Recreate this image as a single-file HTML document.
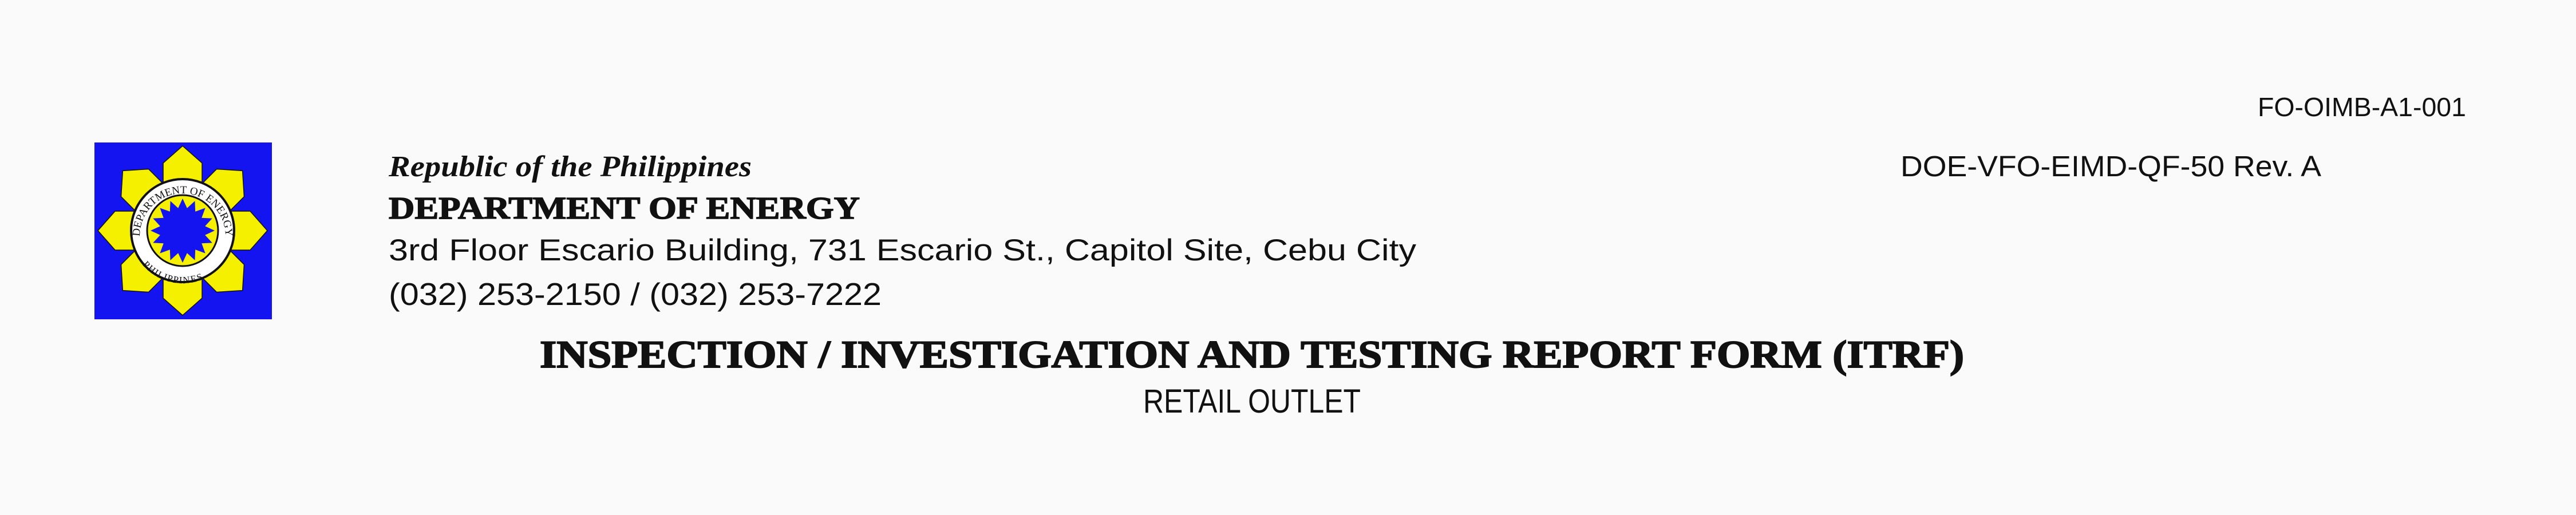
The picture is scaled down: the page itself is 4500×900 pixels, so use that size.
<!DOCTYPE html>
<html><head><meta charset="utf-8"><style>
html,body{margin:0;padding:0;background:#fafafa;}
svg{display:block;}
</style></head><body>
<svg width="4500" height="900" viewBox="0 0 4500 900" xmlns="http://www.w3.org/2000/svg">
<rect x="0" y="0" width="4500" height="900" fill="#fafafa"/>
<g>
  <rect x="165" y="249" width="310" height="309" fill="#1414f0"/>
  <g transform="translate(319,403)">
    <g fill="#f5f000" stroke="#111" stroke-width="1.5">
      <polygon points="0,-148 -34,-118 -34,-70 34,-70 34,-118" transform="rotate(0)"/>
      <polygon points="0,-148 -34,-118 -34,-70 34,-70 34,-118" transform="rotate(45)"/>
      <polygon points="0,-148 -34,-118 -34,-70 34,-70 34,-118" transform="rotate(90)"/>
      <polygon points="0,-148 -34,-118 -34,-70 34,-70 34,-118" transform="rotate(135)"/>
      <polygon points="0,-148 -34,-118 -34,-70 34,-70 34,-118" transform="rotate(180)"/>
      <polygon points="0,-148 -34,-118 -34,-70 34,-70 34,-118" transform="rotate(225)"/>
      <polygon points="0,-148 -34,-118 -34,-70 34,-70 34,-118" transform="rotate(270)"/>
      <polygon points="0,-148 -34,-118 -34,-70 34,-70 34,-118" transform="rotate(315)"/>
    </g>
    <circle r="90" fill="#fff" stroke="#111" stroke-width="4"/>
    <circle r="62" fill="#f5f000" stroke="#111" stroke-width="3"/>
    <polygon id="star" fill="#1414f0" points=""/>
    <defs><path id="ringpath" d="M -75,10 A 75,75 0 1,1 75,10"/><path id="ringpath2" d="M -60,50 A 78,78 0 0,0 60,50"/></defs>
    <text font-family="Liberation Serif, serif" font-size="19" fill="#111"><textPath href="#ringpath">DEPARTMENT OF ENERGY</textPath></text>
    <text font-family="Liberation Serif, serif" font-size="17" fill="#111" dy="14"><textPath href="#ringpath2">PHILIPPINES</textPath></text>
  </g>
</g>
<text x="679" y="308" font-family="Liberation Serif, serif" font-size="52" font-style="italic" font-weight="bold" textLength="634" lengthAdjust="spacingAndGlyphs" fill="#111">Republic of the Philippines</text>
<text x="679" y="382" font-family="Liberation Serif, serif" font-size="55" font-weight="bold" stroke="#111" stroke-width="1.5" textLength="823" lengthAdjust="spacingAndGlyphs" fill="#111">DEPARTMENT OF ENERGY</text>
<text x="679" y="455" font-family="Liberation Sans, sans-serif" font-size="53" textLength="1795" lengthAdjust="spacingAndGlyphs" fill="#111">3rd Floor Escario Building, 731 Escario St., Capitol Site, Cebu City</text>
<text x="679" y="533" font-family="Liberation Sans, sans-serif" font-size="55" textLength="861" lengthAdjust="spacingAndGlyphs" fill="#111">(032) 253-2150 / (032) 253-7222</text>
<text x="3944" y="203" font-family="Liberation Sans, sans-serif" font-size="46" textLength="364" lengthAdjust="spacingAndGlyphs" fill="#111">FO-OIMB-A1-001</text>
<text x="3320" y="308" font-family="Liberation Sans, sans-serif" font-size="51" textLength="735" lengthAdjust="spacingAndGlyphs" fill="#111">DOE-VFO-EIMD-QF-50 Rev. A</text>
<text x="943" y="642" font-family="Liberation Serif, serif" font-size="68" font-weight="bold" stroke="#111" stroke-width="2" textLength="2488" lengthAdjust="spacingAndGlyphs" fill="#111">INSPECTION / INVESTIGATION AND TESTING REPORT FORM (ITRF)</text>
<text x="1997" y="721" font-family="Liberation Sans, sans-serif" font-size="58" textLength="380" lengthAdjust="spacingAndGlyphs" fill="#111">RETAIL OUTLET</text>
</svg>
<script>
var pts=[];for(var i=0;i<32;i++){var r=i%2?40:56;var a=i*Math.PI/16-Math.PI/2;pts.push((r*Math.cos(a)).toFixed(1)+','+(r*Math.sin(a)).toFixed(1));}
document.getElementById('star').setAttribute('points',pts.join(' '));
</script>
</body></html>
